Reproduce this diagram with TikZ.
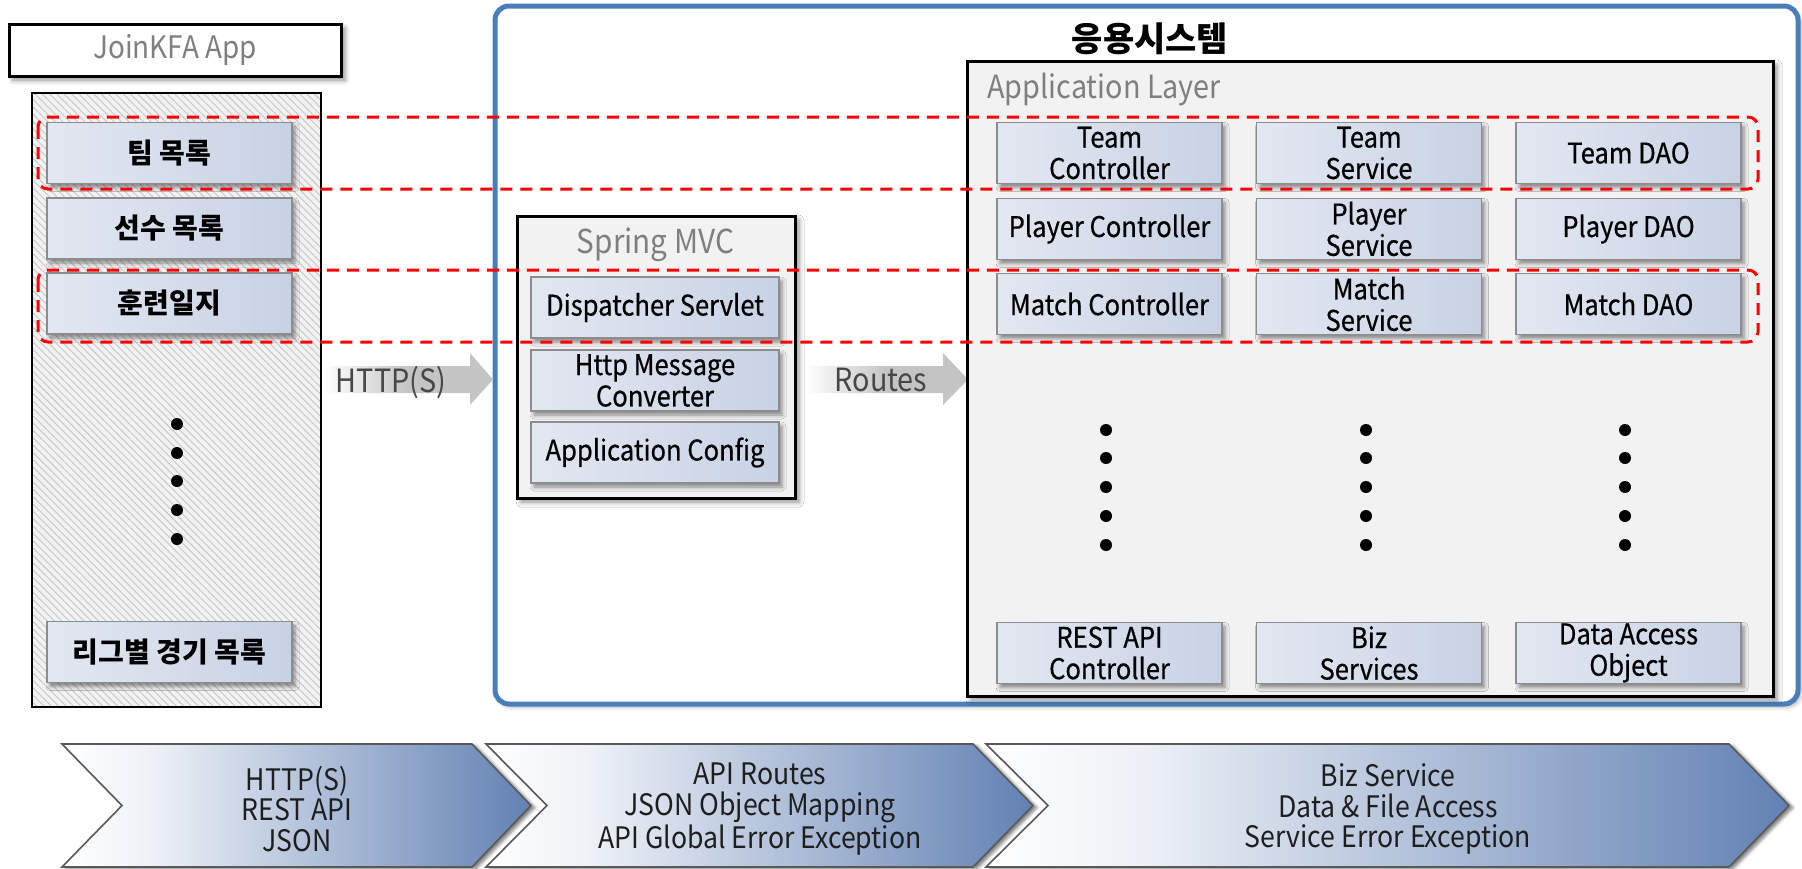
\documentclass[tikz,border=0pt]{standalone}
\usepackage{fontspec}
\setmainfont{Noto Sans CJK KR}
\newfontfamily\latinfont{Noto Sans CJK KR}[FakeStretch=0.9]
\newfontfamily\btnfont{Noto Sans CJK KR}[FakeStretch=0.9, FakeBold=0.6]
\usetikzlibrary{shadows.blur,patterns.meta,calc}
\definecolor{frameblue}{HTML}{4A7EBB}
\definecolor{panelgray}{HTML}{F2F2F2}
\definecolor{btnL}{HTML}{E3E7F1}
\definecolor{btnR}{HTML}{C8D2E5}
\definecolor{btnborder}{HTML}{8C8C8C}
\definecolor{titlegray}{HTML}{7F7F7F}
\definecolor{arrowgray}{HTML}{C4C4C4}
\definecolor{chevblue}{HTML}{6281B3}
\definecolor{txtdark}{HTML}{1E1E1E}
\pgfdeclarehorizontalshading{arrowsh}{100bp}{color(0bp)=(white); color(25bp)=(white); color(50bp)=(arrowgray); color(100bp)=(arrowgray)}
\pgfdeclarehorizontalshading{chevsh}{100bp}{color(0bp)=(white); color(25bp)=(white); color(35bp)=(white!88!chevblue); color(75bp)=(chevblue); color(100bp)=(chevblue)}
\pgfdeclarehorizontalshading{btnsh}{100bp}{color(0bp)=(btnL); color(25bp)=(btnL); color(75bp)=(btnR); color(100bp)=(btnR)}
\tikzset{
  btn/.style={draw=btnborder, line width=0.8pt, shade, shading=btnsh, minimum height=30.5pt, inner sep=0pt, align=center,
    font=\btnfont\fontsize{14.2}{15.7}\selectfont, text=black,
    blur shadow={shadow xshift=1.5pt, shadow yshift=-2pt, shadow blur radius=2pt, shadow opacity=45}},
  kbtn/.style={btn, font=\fontsize{14}{16}\selectfont\bfseries, minimum width=122.5pt},
  sbtn/.style={btn, minimum width=124pt},
  abtn/.style={btn, minimum width=112.5pt},
  container/.style={draw=black, line width=1.5pt, fill=panelgray, inner sep=0pt,
    blur shadow={shadow xshift=2pt, shadow yshift=-2pt, shadow blur radius=2.5pt, shadow opacity=45}},
  graytitle/.style={text=titlegray, font=\latinfont\fontsize{16}{18}\selectfont, inner sep=0pt},
  redrow/.style={draw=red, line width=1.5pt, dash pattern=on 6pt off 4pt, rounded corners=5pt},
  chev/.style={draw=black!65, line width=0.8pt, shade, shading=chevsh,
    blur shadow={shadow xshift=2pt, shadow yshift=-1pt, shadow blur radius=1.5pt, shadow opacity=50}},
  chevtext/.style={align=center, font=\latinfont\fontsize{14.8}{15.2}\selectfont, text=txtdark, inner sep=0pt},
  flowarrow/.style={shade, shading=arrowsh},
  flowlabel/.style={text=black!72, font=\latinfont\fontsize{16}{18}\selectfont, inner sep=0pt},
}
\begin{document}
\begin{tikzpicture}[x=0.5pt, y=-0.5pt]
\useasboundingbox (0,0) rectangle (1802,868);

% outer blue frame
\node[draw=frameblue, line width=2.5pt, rounded corners=7pt, minimum width=651.5pt, minimum height=349pt, inner sep=0pt,
  blur shadow={shadow xshift=1.5pt, shadow yshift=-1.5pt, shadow blur radius=2pt, shadow opacity=30}, fill=white]
  (frame) at (1146.5,355) {};
\node[font=\fontsize{17}{19}\selectfont\bfseries, inner sep=0pt] (sys) at (1150,39) {응용시스템};

% JoinKFA App
\node[draw=black, line width=1.5pt, fill=white, minimum width=166pt, minimum height=26pt, inner sep=0pt,
  text=titlegray, font=\latinfont\fontsize{15.5}{17}\selectfont,
  blur shadow={shadow xshift=2pt, shadow yshift=-2pt, shadow blur radius=2.5pt, shadow opacity=45}]
  (app) at (175,50) {JoinKFA App};

% left hatched panel
\node[draw=black, line width=1.2pt, minimum width=144.5pt, minimum height=307pt, inner sep=0pt,
  preaction={fill=gray!10},
  pattern={Lines[angle=-45, distance=2.6pt, line width=0.45pt]}, pattern color=gray!45]
  (panel) at (176.5,400) {};

\node[kbtn] (k1) at (169.5,153) {팀 목록};
\node[kbtn] (k2) at (169.5,228.5) {선수 목록};
\node[kbtn] (k3) at (169.5,303.5) {훈련일지};
\node[kbtn] (k4) at (169.5,652) {리그별 경기 목록};
\foreach \yy in {424,453,481,510,539} \fill (177,\yy) circle[radius=3pt];

% HTTP(S) arrow
\path[flowarrow] (323,366) -- (470,366) -- (470,353) -- (493,379.5) -- (470,405) -- (470,393) -- (323,393) -- cycle;
\node[flowlabel, anchor=base] (httpl) at (391,392) {HTTP(S)};

% Spring MVC
\node[container, minimum width=139pt, minimum height=141pt] (spring) at (656,357) {};
\node[graytitle, font=\latinfont\fontsize{16.5}{18}\selectfont] (springt) at (655.5,245) {Spring MVC};
\node[sbtn] (s1) at (655,307.5) {Dispatcher Servlet};
\node[sbtn] (s2) at (655,380.5) {Http Message\\Converter};
\node[sbtn] (s3) at (655,452.5) {Application Config};

% Routes arrow
\path[flowarrow] (805,366) -- (943,366) -- (943,353) -- (968,379.5) -- (943,405) -- (943,393) -- (805,393) -- cycle;
\node[flowlabel, anchor=base] (routesl) at (881,391) {Routes};

% Application layer
\node[container, minimum width=403pt, minimum height=317.5pt] (layer) at (1370,378.5) {};
\node[graytitle, anchor=base west] (layert) at (987,98) {Application Layer};

\node[abtn] (a11) at (1109.5,153) {Team\\Controller};
\node[abtn] (a12) at (1369,153) {Team\\Service};
\node[abtn] (a13) at (1628.5,153) {Team DAO};
\node[abtn] (a21) at (1109.5,229) {Player Controller};
\node[abtn] (a22) at (1369,229) {Player\\Service};
\node[abtn] (a23) at (1628.5,229) {Player DAO};
\node[abtn] (a31) at (1109.5,304) {Match Controller};
\node[abtn] (a32) at (1369,304) {Match\\Service};
\node[abtn] (a33) at (1628.5,304) {Match DAO};
\node[abtn] (a41) at (1109.5,653) {REST API\\Controller};
\node[abtn] (a42) at (1369,653) {Biz\\Services};
\node[abtn] (a43) at (1628.5,653) {Data Access\\Object};
\foreach \xx in {1106,1366,1625}
  \foreach \yy in {430,458,487,516,545} \fill (\xx,\yy) circle[radius=3pt];

% chevrons
\path[chev] (62,744) -- (472,744) -- (531,805.5) -- (472,867) -- (62,867) -- (122,805.5) -- cycle;
\path[chev] (486,744) -- (973,744) -- (1033,805.5) -- (973,867) -- (486,867) -- (547,805.5) -- cycle;
\path[chev] (986,744) -- (1729,744) -- (1789,805.5) -- (1729,867) -- (986,867) -- (1048,805.5) -- cycle;
\node[chevtext] (c1) at (297,809) {HTTP(S)\\REST API\\JSON};
\node[chevtext] (c2) at (760,809) {API Routes\\JSON Object Mapping\\API Global Error Exception};
\node[chevtext] (c3) at (1388,809) {Biz Service\\Data \& File Access\\Service Error Exception};

% red dashed highlight rows
\draw[redrow] (38,117) rectangle (1758,189);
\draw[redrow] (38,270) rectangle (1758,342);
\end{tikzpicture}
\end{document}
